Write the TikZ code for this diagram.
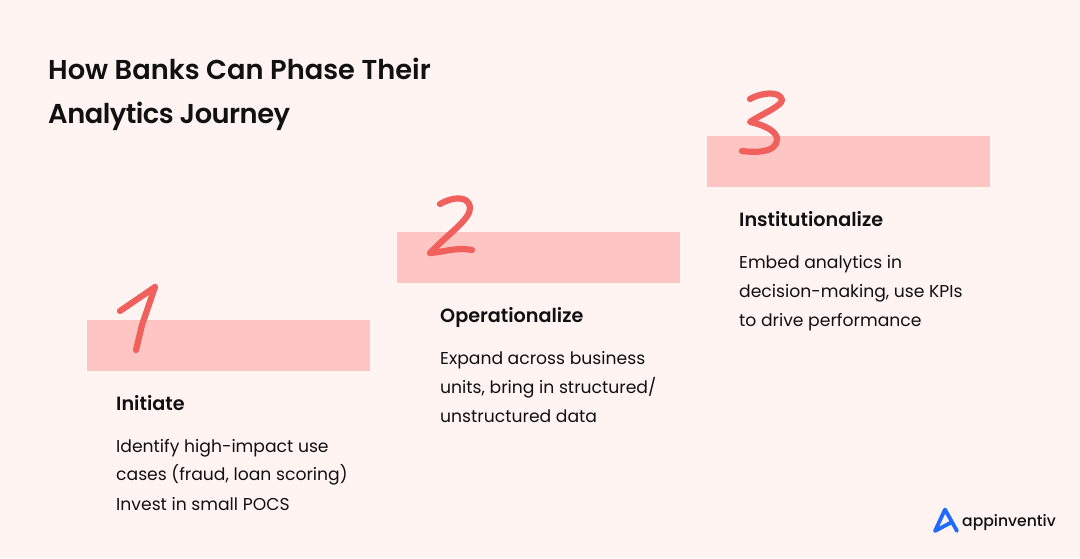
\documentclass[tikz,border=0pt]{standalone}
\usepackage{fontspec}
\setmainfont[BoldFont={Poppins SemiBold}]{Poppins}
\newfontfamily\logofont{Poppins Medium}
\definecolor{bgc}{HTML}{FFF4F2}
\definecolor{band}{HTML}{FFC5C2}
\definecolor{digit}{HTML}{F0605C}
\definecolor{logob}{HTML}{1F6BFF}
\definecolor{ink}{HTML}{111111}
\tikzset{
  bandbox/.style={fill=band,draw=none,minimum width=283pt,minimum height=51pt,inner sep=0pt,anchor=north west},
  digitline/.style={draw=digit,line width=6.2pt,line cap=round,line join=round},
  titletext/.style={anchor=base west,inner sep=0pt,font=\fontsize{27.3}{27.3}\selectfont\bfseries,text=ink},
  headtext/.style={anchor=base west,inner sep=0pt,font=\fontsize{19.2}{19.2}\selectfont\bfseries,text=ink},
  bodytext/.style={anchor=base west,inner sep=0pt,font=\fontsize{17.2}{17.2}\selectfont,text=ink},
}
\begin{document}
\begin{tikzpicture}[x=1pt,y=-1pt]
\useasboundingbox (0,0) rectangle (1080,558);
\fill[bgc] (0,0) rectangle (1080,558);
\node[titletext] (t1) at (48,79) {How Banks Can Phase Their};
\node[titletext] (t2) at (48,123) {\addfontfeature{LetterSpace=-1.9}Analytics Journey};
\node[bandbox] (b1) at (87,320) {};
\node[bandbox] (b2) at (397,232) {};
\node[bandbox] (b3) at (707,136) {};
\draw[digitline] (120,311) -- (155,287) -- (142,325) -- (136,350);
\draw[digitline] (440,204) .. controls (452,197) and (468,195) .. (470,207) .. controls (471,219) and (450,232) .. (430,253) .. controls (445,252) and (455,247) .. (472,250);
\draw[digitline] (750,99) .. controls (760,93) and (780,90) .. (782,100) .. controls (782,106) and (760,115) .. (750,122) .. controls (765,125) and (778,132) .. (777,140) .. controls (776,152) and (758,153) .. (742,151);
\node[headtext] (h1) at (116,410) {Initiate};
\node[bodytext] (p11) at (116,452) {Identify high-impact use};
\node[bodytext] (p12) at (116,480) {cases (fraud, loan scoring)};
\node[bodytext] (p13) at (116,510) {Invest in small POCS};
\node[headtext] (h2) at (440,322) {Operationalize};
\node[bodytext] (p21) at (440,364) {Expand across business};
\node[bodytext] (p22) at (440,393) {units, bring in structured/};
\node[bodytext] (p23) at (440,422) {unstructured data};
\node[headtext] (h3) at (739,226) {Institutionalize};
\node[bodytext] (p31) at (739,268) {Embed analytics in};
\node[bodytext] (p32) at (739,297) {decision-making, use KPIs};
\node[bodytext] (p33) at (739,326) {to drive performance};
\draw[draw=logob,line width=3.8pt,line join=round,line cap=round] (957,531) -- (945,509.5) -- (935,531) -- (950,523);
\node[anchor=base west,inner sep=0pt,font=\fontsize{15.6}{15.6}\logofont,text=ink] (logo) at (962,526) {appinventiv};
\end{tikzpicture}
\end{document}
